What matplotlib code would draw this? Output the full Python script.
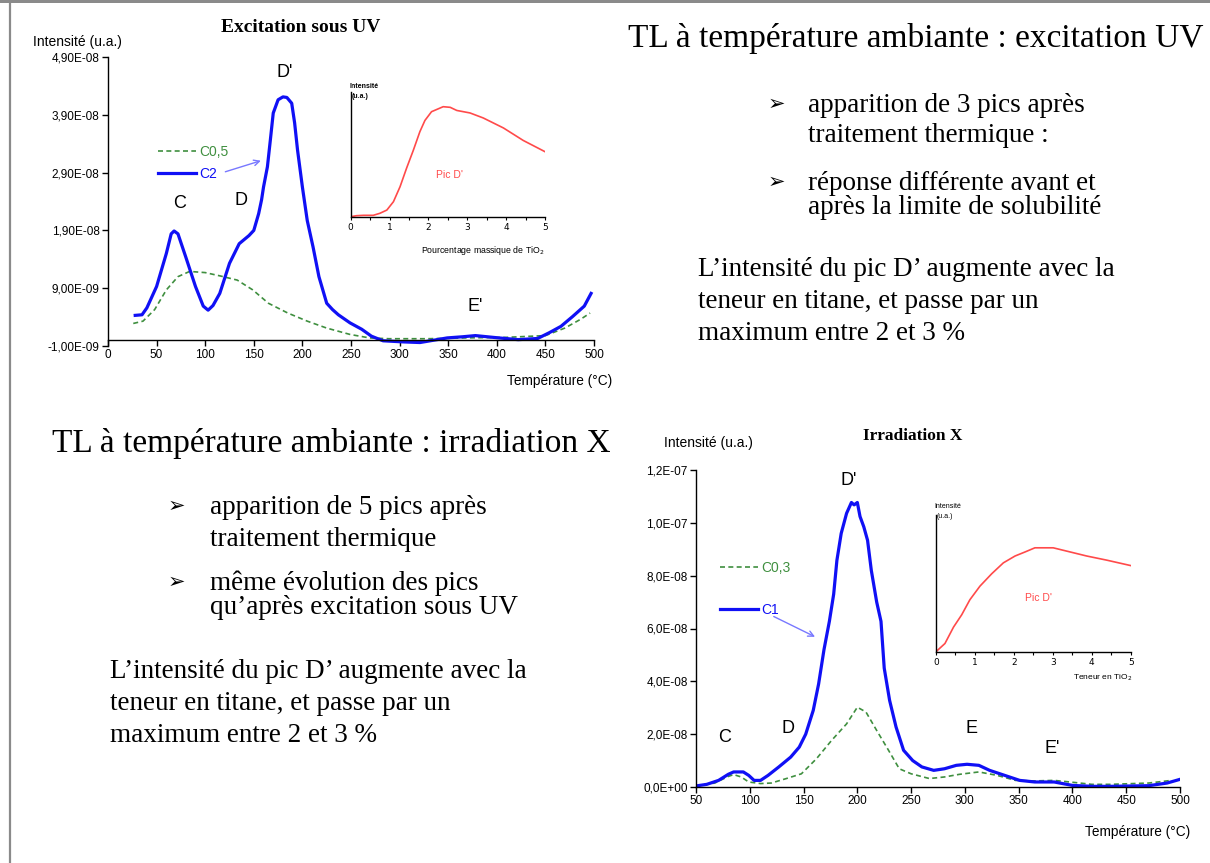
import matplotlib
matplotlib.use("Agg")
import matplotlib.pyplot as plt
from matplotlib.patches import Rectangle
from matplotlib.ticker import FuncFormatter, MultipleLocator
from matplotlib.lines import Line2D

W, H = 1210, 863

# --- UV excitation: TL glow curves (temperature in degC, intensity in 1e-9 a.u.)
uv_c2_t = [28, 35, 40, 50, 60, 65, 68, 72, 80, 90, 98, 103, 108, 115, 125, 135, 145,
           150, 155, 158, 160, 164, 167, 170, 175, 180, 184, 189, 192, 195, 200, 205,
           211, 217, 225, 231, 237, 249, 261, 271, 283, 305, 321, 349, 365, 378, 390,
           402, 422, 442, 454, 466, 478, 490, 497]
uv_c2_i = [4.3, 4.4, 5.6, 9.3, 15.0, 18.4, 18.9, 18.4, 14.4, 9.3, 5.9, 5.2, 6.0, 8.1,
           13.3, 16.7, 18.1, 19.0, 21.9, 24.3, 26.5, 30.0, 34.6, 39.3, 41.6, 42.1, 42.0,
           41.0, 37.6, 32.9, 26.5, 20.7, 16.1, 11.0, 6.4, 5.3, 4.4, 3.0, 1.9, 0.7, -0.1,
           -0.3, -0.4, 0.4, 0.6, 0.8, 0.6, 0.4, 0.1, 0.3, 1.3, 2.4, 4.1, 5.9, 8.1]
uv_c05_t = [26, 36, 48, 60, 72, 84, 100, 116, 133, 149, 165, 185, 205, 225, 249, 269,
            289, 329, 369, 410, 450, 470, 486, 496]
uv_c05_i = [2.9, 3.3, 5.3, 8.7, 11.0, 11.9, 11.7, 11.1, 10.4, 8.7, 6.4, 4.7, 3.3, 2.1,
            1.0, 0.4, 0.26, 0.26, 0.4, 0.5, 0.8, 2.1, 3.6, 4.7]
# peak D' intensity vs TiO2 mass percentage (relative units)
uv_pic_x = [0, 0.15, 0.33, 0.58, 0.75, 0.93, 1.1, 1.27, 1.44, 1.61, 1.78, 1.91, 2.08,
            2.38, 2.56, 2.73, 3.07, 3.41, 3.93, 4.44, 5.0]
uv_pic_y = [0, 0.008, 0.011, 0.011, 0.027, 0.053, 0.12, 0.24, 0.39, 0.53, 0.68, 0.77,
            0.84, 0.88, 0.875, 0.85, 0.83, 0.79, 0.71, 0.61, 0.52]

# --- X irradiation
x_c1_t = [50, 60, 71, 80, 85, 94, 99, 104, 110, 117, 127, 138, 146, 152, 159, 164, 169,
          174, 178, 181, 185, 190, 194.5, 197, 200, 202.5, 206, 209.5, 213, 218, 222,
          225, 230, 236, 243, 251.5, 260, 271, 281, 292, 302, 313, 323, 337, 351, 365,
          383, 400, 418, 435, 471, 488, 500]
x_c1_i = [0.4, 1.0, 2.5, 4.8, 5.7, 5.7, 4.4, 2.5, 2.5, 4.4, 7.6, 11.3, 15.1, 20.0, 29.0,
          39.0, 52.0, 62.7, 73.0, 85.8, 96.0, 103.6, 107.7, 106.8, 107.7, 102.4, 98.5,
          93.4, 82.0, 70.0, 62.7, 45.0, 32.8, 22.7, 13.9, 10.0, 7.6, 6.3, 6.9, 8.2, 8.6,
          8.2, 6.3, 4.4, 2.5, 1.9, 1.9, 0.6, 0.25, 0.25, 0.5, 1.5, 2.9]
x_c03_t = [50, 67.5, 80, 85, 92, 99, 110, 120, 134, 148, 162, 176, 190, 200, 208, 218,
           229, 239, 250, 267, 281, 295, 313, 330, 347, 365, 383, 400, 418, 435, 471, 492]
x_c03_i = [0.4, 1.5, 4.0, 4.7, 3.8, 1.9, 1.3, 1.5, 3.2, 5.0, 10.7, 17.6, 23.9, 30.2,
           28.4, 21.4, 13.9, 6.9, 5.0, 3.2, 3.8, 4.8, 5.7, 4.4, 2.5, 2.3, 2.5, 1.8, 1.0,
           1.0, 1.5, 2.5]
x_pic_x = [0, 0.23, 0.45, 0.66, 0.87, 1.13, 1.43, 1.73, 2.03, 2.29, 2.54, 3.01, 3.44,
           3.87, 4.38, 5.0]
x_pic_y = [0, 0.06, 0.18, 0.27, 0.38, 0.48, 0.57, 0.65, 0.70, 0.73, 0.76, 0.76, 0.73,
           0.70, 0.67, 0.63]

BLUE = "#1010f5"
GREEN = "#3f8f3f"
RED = "#ff4a4a"
ARROW = "#7878ff"
SANS = "Liberation Sans"
SERIF = ["Liberation Serif", "DejaVu Sans"]


def fx(px):
    return px / W


def fy(py):
    return 1 - py / H


def axes_px(fig, left, top, right, bottom):
    return fig.add_axes([fx(left), fy(bottom), (right - left) / W, (bottom - top) / H])


def sci(digits):
    return FuncFormatter(lambda v, p: f"{v:.{digits}E}".replace(".", ","))


def style_main(ax):
    for s in ("top", "right"):
        ax.spines[s].set_visible(False)
    for s in ("left", "bottom"):
        ax.spines[s].set_linewidth(1.0)
    ax.tick_params(direction="out", length=4, width=1, labelsize=8.5, pad=2)
    for lab in ax.get_xticklabels() + ax.get_yticklabels():
        lab.set_family(SANS)


def style_inset(ax):
    for s in ("top", "right"):
        ax.spines[s].set_visible(False)
    ax.spines["left"].set_linewidth(1.0)
    ax.spines["bottom"].set_linewidth(1.0)
    ax.set_yticks([])
    ax.set_xlim(0, 5)
    ax.set_ylim(0, 1)
    ax.xaxis.set_major_locator(MultipleLocator(0.5))
    ax.xaxis.set_major_formatter(FuncFormatter(lambda v, p: f"{v:.0f}" if v % 1 == 0 else ""))
    ax.tick_params(axis="x", direction="out", length=2.5, width=0.8, labelsize=6.5, pad=2)
    ax.patch.set_alpha(0)


fig = plt.figure(figsize=(W / 100, H / 100), dpi=100)

# slide frame
fig.add_artist(Rectangle((0, fy(3)), 1, 3 / H, transform=fig.transFigure,
                         color="#8a8a8a", lw=0))
fig.add_artist(Line2D([fx(9.5), fx(9.5)], [0, fy(3)], transform=fig.transFigure,
                      color="#8a8a8a", lw=1.6))

# ---------------- UV chart ----------------
ax1 = axes_px(fig, 108, 57, 594, 346)
ax1.plot(uv_c05_t, [v * 1e-9 for v in uv_c05_i], color=GREEN, lw=1.2,
         dashes=(3, 2), label="C0,5")
ax1.plot(uv_c2_t, [v * 1e-9 for v in uv_c2_i], color=BLUE, lw=2.3, label="C2")
ax1.set_xlim(0, 500)
ax1.set_ylim(-1e-9, 4.9e-8)
ax1.set_yticks([-1e-9, 9e-9, 1.9e-8, 2.9e-8, 3.9e-8, 4.9e-8])
ax1.yaxis.set_major_formatter(sci(2))
ax1.xaxis.set_major_locator(MultipleLocator(50))
ax1.spines["bottom"].set_position(("data", 0))
style_main(ax1)
for txt, t, v in [("C", 74, 2.36e-8), ("D", 137, 2.41e-8), ("D'", 182, 4.64e-8),
                  ("E'", 378, 5.9e-9)]:
    ax1.text(t, v, txt, ha="center", va="center", fontsize=13, family=SANS)
ax1.legend(loc="upper left", bbox_to_anchor=(fx(158), fy(145)),
           bbox_transform=fig.transFigure, frameon=False,
           handlelength=2.7, handletextpad=0.3, labelspacing=0.55, borderpad=0,
           borderaxespad=0, labelcolor="linecolor", prop={"family": SANS, "size": 10})
ax1.annotate("", xy=(160, 3.12e-8), xytext=(118, 2.9e-8),
             arrowprops=dict(arrowstyle="->", color=ARROW, lw=1.0))

fig.text(fx(33), fy(42), "Intensité (u.a.)", fontsize=10, family=SANS, va="center")
fig.text(fx(612), fy(381), "Température (°C)", fontsize=9.8, family=SANS,
         ha="right", va="center")
fig.text(fx(301), fy(28), "Excitation sous UV", fontsize=14, family=SERIF,
         weight="bold", ha="center", va="center")

ins1 = axes_px(fig, 350.7, 91.7, 545, 216.7)
ins1.plot(uv_pic_x, uv_pic_y, color=RED, lw=1.2)
style_inset(ins1)
ins1.text(2.55, 0.33, "Pic D'", color=RED, fontsize=7.5, family=SANS, ha="center",
          va="center")
fig.text(fx(349), fy(86), "Intensité", fontsize=5, family=SANS, weight="bold",
         va="center")
fig.text(fx(352), fy(97), "(u.a.)", fontsize=5, family=SANS, weight="bold", va="center")
fig.text(fx(545), fy(250), "Pourcentage massique de TiO$_2$", fontsize=6.3, family=SANS,
         ha="right", va="center")

# ---------------- X chart ----------------
ax2 = axes_px(fig, 696, 470, 1180, 787)
ax2.plot(x_c03_t, [v * 1e-9 for v in x_c03_i], color=GREEN, lw=1.2, dashes=(3, 2),
         label="C0,3")
ax2.plot(x_c1_t, [v * 1e-9 for v in x_c1_i], color=BLUE, lw=2.3, label="C1")
ax2.set_xlim(50, 500)
ax2.set_ylim(0, 1.2e-7)
ax2.yaxis.set_major_locator(MultipleLocator(2e-8))
ax2.yaxis.set_major_formatter(sci(1))
ax2.xaxis.set_major_locator(MultipleLocator(50))
style_main(ax2)
for txt, t, v in [("C", 77, 1.89e-8), ("D", 136, 2.2e-8), ("D'", 192, 1.16e-7),
                  ("E", 306, 2.2e-8), ("E'", 381, 1.45e-8)]:
    ax2.text(t, v, txt, ha="center", va="center", fontsize=13, family=SANS)
ax2.legend(loc="upper left", bbox_to_anchor=(fx(720), fy(561)),
           bbox_transform=fig.transFigure, frameon=False,
           handlelength=2.7, handletextpad=0.3, labelspacing=2.0, borderpad=0,
           borderaxespad=0, labelcolor="linecolor", prop={"family": SANS, "size": 10})
ax2.annotate("", xy=(163, 5.64e-8), xytext=(120, 6.5e-8),
             arrowprops=dict(arrowstyle="->", color=ARROW, lw=1.0))

fig.text(fx(664), fy(443), "Intensité (u.a.)", fontsize=10, family=SANS, va="center")
fig.text(fx(1190), fy(832), "Température (°C)", fontsize=9.8, family=SANS,
         ha="right", va="center")
fig.text(fx(913), fy(436), "Irradiation X", fontsize=12.5, family=SERIF,
         weight="bold", ha="center", va="center")

ins2 = axes_px(fig, 936, 515, 1130.7, 651.7)
ins2.plot(x_pic_x, x_pic_y, color=RED, lw=1.2)
style_inset(ins2)
ins2.text(2.62, 0.39, "Pic D'", color=RED, fontsize=7.5, family=SANS, ha="center",
          va="center")
fig.text(fx(934), fy(506), "Intensité", fontsize=5, family=SANS, va="center")
fig.text(fx(937), fy(517), "(u.a.)", fontsize=5, family=SANS, va="center")
fig.text(fx(1132), fy(678), "Teneur en TiO$_2$", fontsize=6, family=SANS,
         ha="right", va="center")

# ---------------- slide text ----------------
fig.text(fx(628), fy(38), "TL à température ambiante : excitation UV", fontsize=24,
         family=SERIF, va="center")
fig.text(fx(52), fy(443), "TL à température ambiante : irradiation X", fontsize=24,
         family=SERIF, va="center")

BODY = 19.5
for x_b, x_t, lines in [
    (768, 808, [(105, "apparition de 3 pics après", True), (136, "traitement thermique :", False),
                (183, "réponse différente avant et", True), (207, "après la limite de solubilité", False)]),
    (168, 210, [(507, "apparition de 5 pics après", True), (539, "traitement thermique", False),
                (583, "même évolution des pics", True), (607, "qu’après excitation sous UV", False)]),
]:
    for y, s, bullet in lines:
        if bullet:
            fig.text(fx(x_b), fy(y), "➢", fontsize=15, family=SERIF, va="center")
        fig.text(fx(x_t), fy(y), s, fontsize=BODY, family=SERIF, va="center")

para = ["L’intensité du pic D’ augmente avec la", "teneur en titane, et passe par un",
        "maximum entre 2 et 3 %"]
for x0, y0 in [(698, 269), (110, 671)]:
    for k, s in enumerate(para):
        fig.text(fx(x0), fy(y0 + 32 * k), s, fontsize=BODY, family=SERIF, va="center")

fig.savefig("out.png", dpi=100, facecolor="white")
